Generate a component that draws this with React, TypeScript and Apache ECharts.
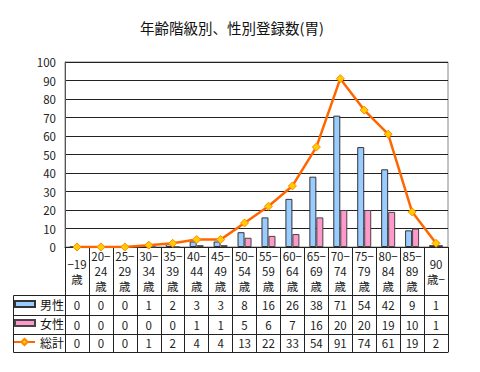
import React, { useEffect, useRef } from "react";
import * as echarts from "echarts";

const categories = [
  "−19\n歳", "20−\n24\n歳", "25−\n29\n歳", "30−\n34\n歳", "35−\n39\n歳", "40−\n44\n歳",
  "45−\n49\n歳", "50−\n54\n歳", "55−\n59\n歳", "60−\n64\n歳", "65−\n69\n歳", "70−\n74\n歳",
  "75−\n79\n歳", "80−\n84\n歳", "85−\n89\n歳", "90\n歳−",
];
const male = [0, 0, 0, 1, 2, 3, 3, 8, 16, 26, 38, 71, 54, 42, 9, 1];
const female = [0, 0, 0, 0, 0, 1, 1, 5, 6, 7, 16, 20, 20, 19, 10, 1];
const total = [0, 0, 0, 1, 2, 4, 4, 13, 22, 33, 54, 91, 74, 61, 19, 2];
const yTicks = { min: 0, max: 100, interval: 10 };
const title = "年齢階級別、性別登録数(胃)";

const FONT = "'Noto Sans CJK JP', 'Noto Sans', sans-serif";

export default function App() {
  const ref = useRef<HTMLDivElement>(null);
  useEffect(() => {
    if (!ref.current) return;
    const chart = echarts.init(ref.current, undefined, { renderer: "svg" });
    const rowAxis = (offset: number, tick: number, margin: number, vals: number[] | null) => ({
      type: "category",
      gridIndex: 0,
      position: "bottom",
      offset,
      data: categories,
      boundaryGap: true,
      axisLine: { show: true, lineStyle: { color: "#222", width: 1 } },
      axisTick: { show: tick > 0, interval: 0, length: tick, lineStyle: { color: "#222", width: 1 } },
      axisLabel: {
        show: !!vals,
        interval: 0,
        margin,
        verticalAlign: "middle",
        fontSize: 11.5,
        color: "#222",
        fontFamily: FONT,
        formatter: (_v: string, i: number) => (vals ? String(vals[i]) : ""),
      },
      splitLine: { show: false },
    });
    const legendBase = {
      left: 14,
      padding: 0,
      itemWidth: 20,
      itemHeight: 6,
      selectedMode: false,
      textStyle: { fontSize: 12, color: "#111", fontFamily: FONT },
    };
    chart.setOption({
      animation: false,
      backgroundColor: "#fff",
      textStyle: { fontFamily: FONT },
      title: {
        text: title,
        left: 135,
        top: 15,
        textStyle: { fontSize: 14.5, fontWeight: "normal", color: "#111", fontFamily: FONT },
      },
      legend: [
        { ...legendBase, data: [{ name: "男性", icon: "rect" }], top: 298 },
        { ...legendBase, data: [{ name: "女性", icon: "rect" }], top: 317 },
        { ...legendBase, data: ["総計"], top: 336, left: 13, itemWidth: 21, itemHeight: 8 },
      ],
      grid: { left: 65, top: 62, width: 383, height: 185, show: true, borderColor: "#888", borderWidth: 1, containLabel: false },
      xAxis: [
        {
          type: "category",
          data: categories,
          boundaryGap: true,
          axisLine: { show: true, lineStyle: { color: "#222", width: 1 } },
          axisTick: { show: true, interval: 0, length: 48, lineStyle: { color: "#222", width: 1 } },
          axisLabel: {
            interval: 0, margin: 24, verticalAlign: "middle", fontSize: 11.5, lineHeight: 15,
            color: "#222", fontFamily: FONT,
          },
        },
        rowAxis(48, 20, 10, male),
        rowAxis(68, 19, 9.5, female),
        rowAxis(87, 18, 9, total),
        rowAxis(105, 0, 0, null),
      ],
      yAxis: {
        type: "value",
        min: yTicks.min,
        max: yTicks.max,
        interval: yTicks.interval,
        axisLine: { show: true, lineStyle: { color: "#555" } },
        axisTick: { show: false },
        axisLabel: { fontSize: 11.5, color: "#222", margin: 9, fontFamily: FONT },
        splitLine: { show: true, lineStyle: { color: "#222", width: 1 } },
      },
      graphic: [
        { type: "rect", shape: { x: 13.5, y: 295.5, width: 52, height: 57 }, style: { fill: "none", stroke: "#222", lineWidth: 1 } },
        { type: "line", shape: { x1: 13.5, y1: 315.5, x2: 65.5, y2: 315.5 }, style: { stroke: "#222", lineWidth: 1 } },
        { type: "line", shape: { x1: 13.5, y1: 334.5, x2: 65.5, y2: 334.5 }, style: { stroke: "#222", lineWidth: 1 } },
      ],
      series: [
        {
          name: "男性", type: "bar", data: male, barWidth: 7, barGap: "0%",
          itemStyle: { color: "#99CCFF", borderColor: "#333", borderWidth: 1 },
        },
        {
          name: "女性", type: "bar", data: female, barWidth: 7, barGap: "0%",
          itemStyle: { color: "#FF99CC", borderColor: "#444", borderWidth: 1 },
        },
        {
          name: "総計", type: "line", data: total, symbol: "diamond", symbolSize: 8,
          lineStyle: { color: "#FF6600", width: 2.5 },
          itemStyle: { color: "#FFCC00", borderColor: "#FF8800", borderWidth: 1 },
          z: 5,
        },
      ],
    });
    return () => chart.dispose();
  }, []);
  return <div ref={ref} style={{ position: "fixed", left: 0, top: 0, width: 480, height: 372 }} />;
}
